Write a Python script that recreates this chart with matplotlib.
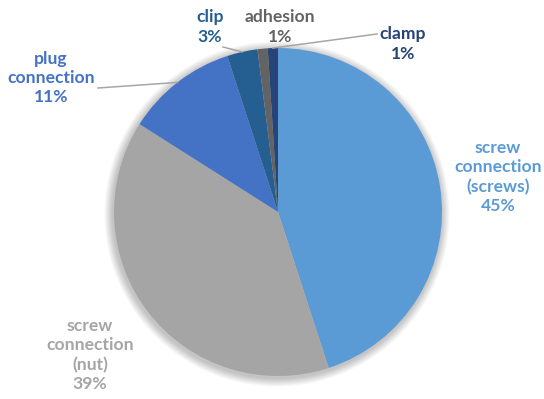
import numpy as np
import matplotlib
matplotlib.use("Agg")
import matplotlib.pyplot as plt
from matplotlib.patches import Circle

# Share of joining methods
categories = ["screw\nconnection\n(screws)", "screw\nconnection\n(nut)", "plug\nconnection",
              "clip", "adhesion", "clamp"]
shares = [45, 39, 11, 3, 1, 1]
colors = ["#5B9BD5", "#A5A5A5", "#4472C4", "#255E91", "#636363", "#264478"]

# Label anchor positions (pixels, origin top-left) and leader line end points
label_pos = [(498, 177), (90, 355), (51, 78), (210, 27), (280, 27), (403, 44)]
leader_end = [None, None, (98, 88), (223, 47), None, (377, 34)]

W, H = 544, 399
fig = plt.figure(figsize=(W / 100, H / 100), dpi=100)
ax = fig.add_axes([0, 0, 1, 1])

cx, cy, r = 278, H - 212, 164

# soft shadow around the pie
for i in range(12):
    ax.add_patch(Circle((cx - 1, cy - 2), r + 1 + i * 0.7, color="black",
                        alpha=0.018, lw=0, zorder=0))

wedges, _ = ax.pie(shares, colors=colors, startangle=90, counterclock=False,
                   center=(cx, cy), radius=r, frame=True,
                   wedgeprops=dict(linewidth=0))
ax.set_xlim(0, W)
ax.set_ylim(0, H)
ax.set_aspect("equal")
ax.axis("off")

for w, lab, val, col, (lx, ly), le in zip(wedges, categories, shares, colors,
                                          label_pos, leader_end):
    ax.text(lx, H - ly, f"{lab}\n{val}%", ha="center", va="center",
            color=col, fontsize=12.6, fontweight="bold", family="Lato",
            linespacing=1.25, zorder=5)
    if le is not None:
        mid = np.deg2rad((w.theta1 + w.theta2) / 2)
        ex, ey = cx + r * np.cos(mid), cy + r * np.sin(mid)
        ax.plot([ex, le[0]], [ey, H - le[1]], color="#A6A6A6", lw=1.1, zorder=4)

fig.savefig("out.png", dpi=100)
